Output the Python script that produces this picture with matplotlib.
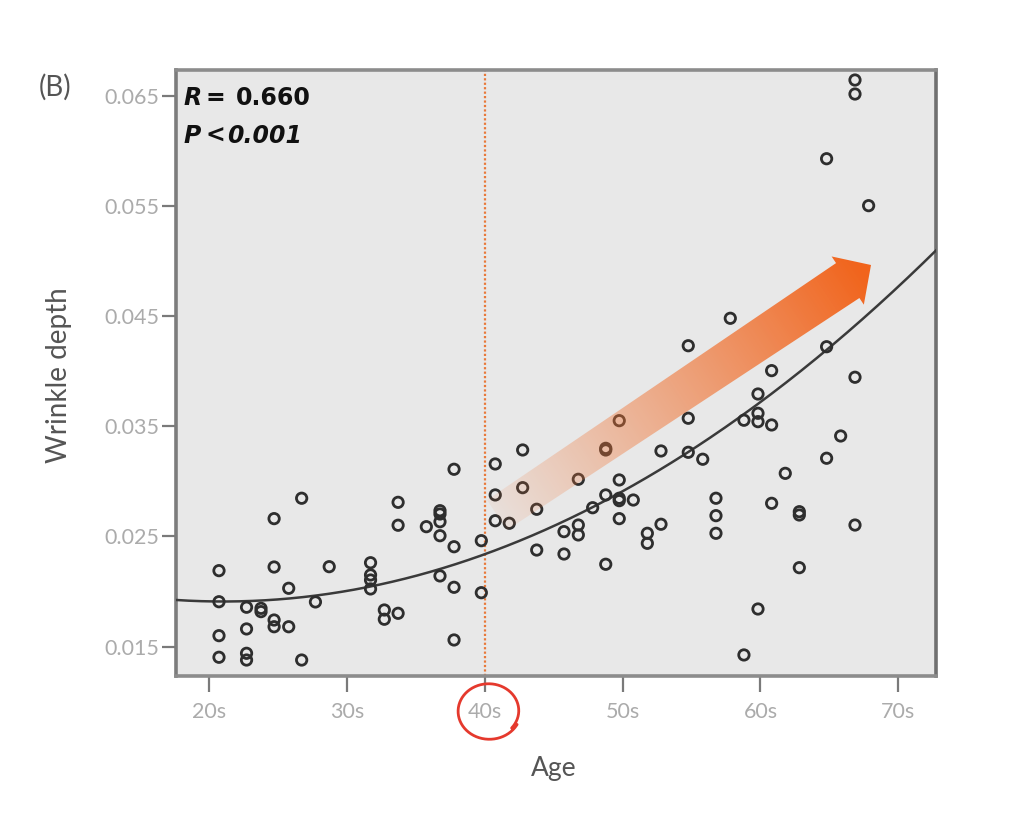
import numpy as np
import matplotlib
matplotlib.use("Agg")
import matplotlib.pyplot as plt
from matplotlib.patches import Polygon

# ---------------- data ----------------
ages = [20.7, 20.7, 20.7, 20.7, 22.7, 22.7, 22.7, 22.7, 23.75, 23.75,
        24.7, 24.7, 24.7, 24.7, 25.76, 25.76, 26.7, 26.7, 27.7, 28.7,
        31.7, 31.7, 31.7, 31.7, 32.7, 32.7, 33.7, 33.7, 33.7, 35.75,
        36.74, 36.74, 36.74, 36.74, 36.74, 37.76, 37.76, 37.76, 37.76, 39.74,
        39.74, 40.75, 40.75, 40.75, 41.77, 42.74, 42.74, 43.76, 43.76, 45.74,
        45.74, 46.78, 46.78, 46.78, 47.82, 48.77, 48.77, 48.77, 48.77, 49.75,
        49.75, 49.75, 49.75, 49.75, 50.77, 51.79, 51.79, 52.78, 52.78, 54.76,
        54.76, 54.76, 55.81, 56.77, 56.77, 56.77, 57.81, 58.8, 58.8, 59.82,
        59.82, 59.82, 59.82, 60.81, 60.81, 60.81, 61.8, 62.82, 62.82, 62.82,
        64.8, 64.8, 64.8, 65.82, 66.86, 66.86, 66.86, 66.86, 67.85]
depth = [0.02190, 0.01908, 0.01600, 0.01404, 0.01858, 0.01661, 0.01440, 0.01379, 0.01848, 0.01818,
         0.02662, 0.02223, 0.01742, 0.01681, 0.02030, 0.01681, 0.02847, 0.01379, 0.01906, 0.02226,
         0.02262, 0.02151, 0.02105, 0.02024, 0.01833, 0.01749, 0.02810, 0.02602, 0.01803, 0.02589,
         0.02734, 0.02704, 0.02634, 0.02507, 0.02142, 0.03110, 0.02407, 0.02039, 0.01561, 0.02462,
         0.01990, 0.03158, 0.02877, 0.02643, 0.02620, 0.03285, 0.02943, 0.02747, 0.02377, 0.02544,
         0.02341, 0.03019, 0.02604, 0.02514, 0.02761, 0.02877, 0.03285, 0.03300, 0.02248, 0.03551,
         0.03013, 0.02847, 0.02825, 0.02662, 0.02831, 0.02529, 0.02438, 0.03276, 0.02611, 0.04231,
         0.03573, 0.03264, 0.03201, 0.02847, 0.02689, 0.02529, 0.04480, 0.03555, 0.01425, 0.03793,
         0.03618, 0.03542, 0.01842, 0.04005, 0.03512, 0.02801, 0.03073, 0.02725, 0.02695, 0.02217,
         0.04222, 0.03210, 0.05928, 0.03412, 0.03945, 0.02604, 0.06642, 0.06515, 0.05502]

# quadratic fit line coefficients (a*x^2 + b*x + c)
fit_coef = [1.19e-5, -4.998e-4, 0.024348]

x_ticks = [20, 30, 40, 50, 60, 70]
x_tick_labels = ["20s", "30s", "40s", "50s", "60s", "70s"]
y_ticks = [0.015, 0.025, 0.035, 0.045, 0.055, 0.065]
y_tick_labels = ["0.015", "0.025", "0.035", "0.045", "0.055", "0.065"]
marker_age = 40
r_value = "0.660"
p_value = "0.001"

# ---------------- figure ----------------
W, H = 1024, 817
fig = plt.figure(figsize=(W / 100, H / 100), dpi=100)
fig.patch.set_facecolor("white")

ax = fig.add_axes([176 / W, 1 - 676 / H, (936 - 176) / W, (676 - 70) / H])
ax.set_facecolor("#e8e8e8")
ax.set_xlim(17.58, 72.74)
ax.set_ylim(0.01234, 0.06733)

# fit line
xs = np.linspace(17.58, 72.74, 300)
ax.plot(xs, np.polyval(fit_coef, xs), color="#3a3a3a", lw=1.8, zorder=3)

# points
ax.scatter(ages, depth, s=56, facecolors="none", edgecolors="#2e2e2e",
           linewidths=2.0, zorder=4, clip_on=False)

# vertical dotted line at 40s
ax.axvline(marker_age, color="#e8793a", ls=(0, (1, 1)), lw=1.6, zorder=2)

# ticks
tick_font = dict(family="Lato")
ax.set_xticks(x_ticks)
ax.set_xticklabels(x_tick_labels, fontsize=15.5, color="#ababab", **tick_font)
ax.set_yticks(y_ticks)
ax.set_yticklabels(y_tick_labels, fontsize=15.5, color="#ababab", **tick_font)
ax.tick_params(axis="x", direction="out", length=11.5, width=1.6, color="#7a7a7a", pad=7)
ax.tick_params(axis="y", direction="out", length=10, width=1.6, color="#7a7a7a", pad=2)

for side, sp in ax.spines.items():
    sp.set_color("#8c8c8c")
    sp.set_linewidth(2.6)
ax.spines["left"].set_color("#7c7c7c")
ax.spines["right"].set_color("#707070")

ax.set_xlabel("Age", fontsize=19, color="#555555", family="Lato")
ax.xaxis.set_label_coords((554 - 176) / 760, (676 - 756) / 606)
ax.set_ylabel("Wrinkle depth", fontsize=20, color="#555555", family="Lato")
ax.yaxis.set_label_coords((72 - 176) / 760, (676 - 375) / 606)

# R / P annotation
tf = dict(fontsize=17, color="#111111", family="DejaVu Sans", weight="bold",
          transform=fig.transFigure, va="center", ha="left")
fig.text(183 / W, 1 - 98 / H, "R", style="italic", **tf)
fig.text(206 / W, 1 - 98 / H, "=", **tf)
fig.text(236 / W, 1 - 98 / H, r_value, **tf)
fig.text(183 / W, 1 - 136 / H, "P", style="italic", **tf)
fig.text(205 / W, 1 - 136 / H, "<", style="italic", **tf)
fig.text(227 / W, 1 - 136 / H, p_value, style="italic", **tf)

fig.text(39 / W, 1 - 87 / H, "(B)", fontsize=20, color="#555555", family="Lato",
         va="center", ha="left")

# ---------------- overlay: gradient arrow and red circle ----------------
ov = fig.add_axes([0, 0, 1, 1], zorder=5)
ov.set_xlim(0, W)
ov.set_ylim(H, 0)
ov.axis("off")
ov.patch.set_alpha(0)

tail = np.array([497.0, 515.0])
tip = np.array([871.0, 265.0])
d = tip - tail
L = np.hypot(*d)
u = d / L
n = np.array([-u[1], u[0]])
if n[1] < 0:
    n = -n
shaft_w0, shaft_w1, head_w, head_len = 36.0, 42.0, 58.0, 28.0
base = tail + u * (L - head_len)
pts = [tail - n * shaft_w0 / 2,
       base - n * shaft_w1 / 2,
       base - n * head_w / 2,
       tip,
       base + n * head_w / 2,
       base + n * shaft_w1 / 2,
       tail + n * shaft_w0 / 2]
poly = Polygon(pts, closed=True, facecolor="none", edgecolor="none")
ov.add_patch(poly)

x0, x1 = 470, 890
y0, y1 = 230, 545
gx, gy = np.meshgrid(np.arange(x0, x1), np.arange(y0, y1))
t = ((gx - tail[0]) * u[0] + (gy - tail[1]) * u[1]) / L
t = np.clip(t, 0, 1)
img = np.zeros(gx.shape + (4,))
img[..., 0] = 242 / 255
img[..., 1] = (125 + (100 - 125) * t) / 255
img[..., 2] = (65 + (28 - 65) * t) / 255
img[..., 3] = np.clip(0.08 + 0.95 * t ** 0.95, 0, 1)
im = ov.imshow(img, extent=[x0, x1, y1, y0], origin="upper", interpolation="bilinear",
               aspect="auto", zorder=6)
im.set_clip_path(poly)

# hand-drawn red circle around "40s"
cx, cy, rx, ry = 489.0, 711.0, 29.5, 26.5
tt = np.linspace(np.deg2rad(-40), np.deg2rad(332), 200)
grow = 1 + 0.08 * (tt - tt[0]) / (tt[-1] - tt[0])
cxs = cx + rx * grow * np.cos(tt)
cys = cy - ry * grow * np.sin(tt)
ov.plot(cxs, cys, color="#e5392d", lw=2.0, solid_capstyle="round", zorder=7)

fig.savefig("out.png", dpi=100)
